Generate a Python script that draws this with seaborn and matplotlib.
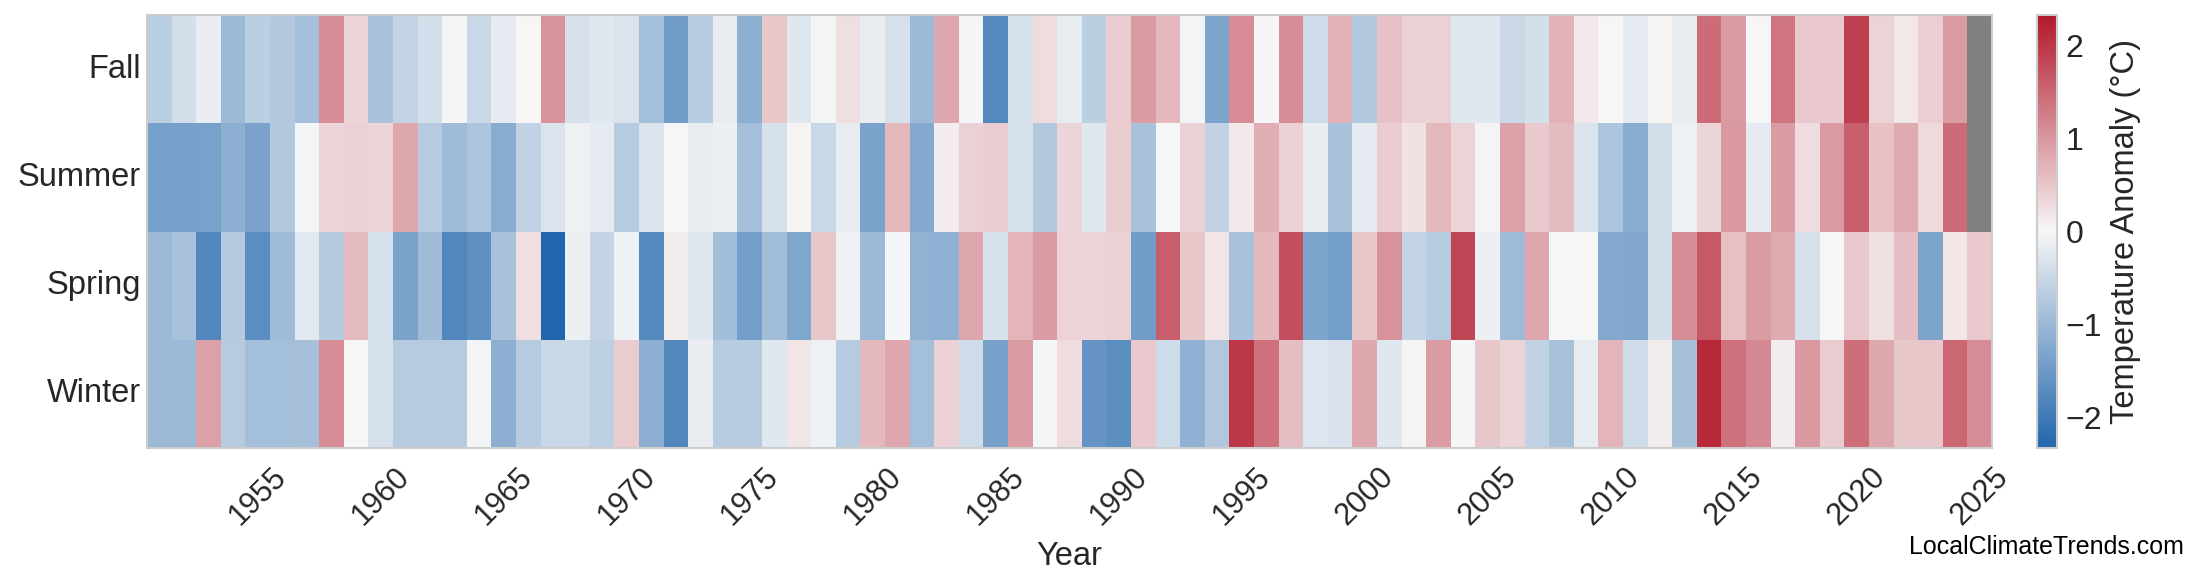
import numpy as np
import pandas as pd
import matplotlib
matplotlib.use("Agg")
import matplotlib.pyplot as plt
import seaborn as sns
from matplotlib.colors import LinearSegmentedColormap

years = list(range(1951, 2026))
seasons = ["Fall", "Summer", "Spring", "Winter"]

fall = [-0.65, -0.4, -0.15, -1.0, -0.65, -0.75, -0.9, 1.1, 0.35, -0.85,
        -0.55, -0.4, -0.02, -0.5, -0.2, 0.0, 1.05, -0.35, -0.25, -0.3,
        -0.9, -1.45, -0.68, -0.15, -1.15, 0.5, -0.25, -0.05, 0.25, -0.15,
        -0.35, -1.0, 0.85, -0.03, -1.75, -0.35, 0.28, -0.17, -0.65, 0.45,
        0.95, 0.65, -0.04, -1.32, 1.12, -0.02, 1.1, -0.45, 0.72, -0.78,
        0.55, 0.4, 0.4, -0.25, -0.25, -0.48, -0.4, 0.72, 0.15, 0.0,
        -0.2, 0.05, -0.15, 1.45, 0.95, 0.0, 1.35, 0.48, 0.48, 1.9,
        0.38, 0.15, 0.42, 0.95, np.nan]
summer = [-1.4, -1.4, -1.38, -1.15, -1.35, -0.75, -0.05, 0.35, 0.4, 0.35,
          0.85, -0.7, -0.95, -0.8, -1.2, -0.6, -0.3, -0.1, -0.2, -0.7,
          -0.3, 0.0, -0.18, -0.12, -0.9, -0.35, 0.05, -0.5, -0.18, -1.35,
          0.65, -1.25, 0.1, 0.4, 0.45, -0.35, -0.75, 0.35, -0.25, 0.45,
          -0.85, 0.0, 0.4, -0.6, 0.15, 0.78, 0.4, -0.15, -0.85, -0.2,
          0.45, 0.22, 0.65, 0.38, -0.04, 0.88, 0.48, 0.62, -0.3, -0.8,
          -1.2, -0.4, -0.1, 0.35, 1.0, -0.2, 0.95, 0.28, 0.95, 1.6,
          0.55, 0.8, 0.3, 1.45, np.nan]
spring = [-1.0, -0.85, -1.8, -0.72, -1.7, -0.95, -0.22, -0.72, 0.62, -0.35,
          -1.35, -0.95, -1.8, -1.65, -0.85, 0.25, -2.33, -0.12, -0.55, -0.08,
          -1.75, 0.12, -0.25, -0.92, -1.42, -0.92, -1.3, 0.5, -0.08, -1.0,
          -0.03, -1.1, -1.12, 0.85, -0.35, 0.68, 0.95, 0.38, 0.38, 0.4,
          -1.45, 1.6, 0.5, 0.2, -0.85, 0.65, 1.75, -1.32, -1.42, 0.5,
          1.05, -0.58, -0.68, 1.85, -0.12, -0.95, 0.85, 0.0, 0.0, -1.25,
          -1.28, -0.4, 1.1, 1.65, 0.58, 0.95, 0.8, -0.35, 0.0, 0.48,
          0.25, 0.6, -1.32, 0.2, 0.48]
winter = [-1.0, -1.0, 0.9, -0.7, -0.9, -0.9, -0.88, 1.1, 0.0, -0.35,
          -0.7, -0.7, -0.7, -0.05, -1.15, -0.7, -0.5, -0.5, -0.62, 0.45,
          -1.15, -1.8, -0.15, -0.7, -0.7, -0.25, 0.2, -0.1, -0.7, 0.65,
          0.85, -0.9, 0.4, -0.45, -1.4, 0.95, -0.03, 0.28, -1.6, -1.7,
          0.48, -0.45, -1.12, -0.78, 2.0, 1.4, 0.6, -0.28, -0.32, 0.85,
          -0.25, 0.05, 0.95, -0.03, 0.5, 0.38, -0.6, -0.85, -0.17, 0.68,
          -0.45, 0.12, -0.88, 2.15, 1.4, 1.15, 0.1, 1.0, 0.45, 1.42,
          0.85, 0.5, 0.5, 1.5, 1.1]

tick_years = [1955, 1960, 1965, 1970, 1975, 1980, 1985, 1990, 1995,
              2000, 2005, 2010, 2015, 2020, 2025]
cbar_ticks = [-2, -1, 0, 1, 2]
cbar_label = "Temperature Anomaly (°C)"
source = "LocalClimateTrends.com"

sns.set_theme(style="white")
plt.rcParams["font.family"] = ["Liberation Sans", "DejaVu Sans"]
text_color = "#262626"

df = pd.DataFrame([fall, summer, spring, winter], index=seasons, columns=years)
cmap = LinearSegmentedColormap.from_list("anom", ["#2166ac", "#f7f7f7", "#b2182b"])
lim = 2.33

W, H = 2200, 585
fig = plt.figure(figsize=(22, 5.85), dpi=100)
ax = fig.add_axes([147 / W, (H - 448) / H, 1845 / W, 433 / H])
cax = fig.add_axes([2037 / W, (H - 448) / H, 20 / W, 433 / H])

sns.heatmap(df, ax=ax, cbar_ax=cax, cmap=cmap, vmin=-lim, vmax=lim,
            xticklabels=False, yticklabels=True,
            cbar_kws={"ticks": cbar_ticks})
ax.set_facecolor("#808080")

ax.set_xticks([years.index(y) + 0.5 for y in tick_years])
ax.set_xticklabels([str(y) for y in tick_years], rotation=45, ha="center",
                   fontsize=22, color=text_color)
ax.set_yticklabels(seasons, rotation=0, fontsize=23.5, color=text_color)
ax.tick_params(axis="both", length=0)
ax.tick_params(axis="x", pad=10)
ax.tick_params(axis="y", pad=4.5)
ax.set_xlabel("Year", fontsize=23.5, color=text_color, labelpad=7)
ax.set_ylabel("")

for s in ax.spines.values():
    s.set_visible(True)
    s.set_color("#cccccc")
    s.set_linewidth(1.5)

cbar = ax.collections[0].colorbar
cbar.outline.set_visible(True)
cbar.outline.set_edgecolor("#cccccc")
cbar.outline.set_linewidth(1.5)
cax.tick_params(labelsize=23, length=0, pad=6, colors=text_color)
cbar.set_label(cbar_label, fontsize=23.5, color=text_color, labelpad=6)

fig.text(2184 / W, (H - 554) / H, source, ha="right", va="baseline",
         fontsize=18, color="black")

fig.savefig("out.png", dpi=100)
